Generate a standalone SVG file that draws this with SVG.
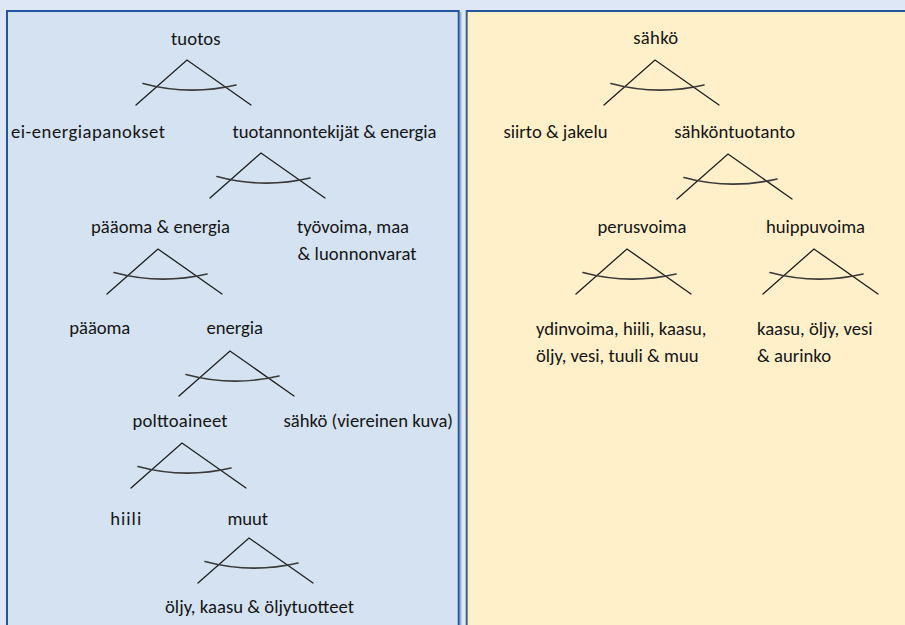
<svg xmlns="http://www.w3.org/2000/svg" xmlns:xlink="http://www.w3.org/1999/xlink" width="905" height="625" viewBox="0 0 905 625">
  <style>
    .lbl { font-family: Carlito, Lato, "Liberation Sans", sans-serif; font-size: 18.67px; fill: #141414; }
    .arm { fill: none; stroke: #1e1e1e; stroke-width: 1.3; stroke-linecap: round; stroke-linejoin: miter; }
    .arc { fill: none; stroke: #3a3a3a; stroke-width: 1.7; stroke-linecap: round; }
  </style>
  <defs>
    <!-- nesting symbol: two branches from an apex with a substitution arc -->
    <g id="fork">
      <path class="arm" d="M -51,45 L 0,0 L 64,45"/>
      <path class="arc" d="M -44,23.5 Q 2,36 49,25"/>
    </g>
  </defs>

  <!-- page background and the two panels -->
  <rect x="0" y="0" width="905" height="625" fill="#dde7f5"/>
  <rect x="7" y="11" width="451.7" height="630" fill="#d5e2f1" stroke="#2356a0" stroke-width="2"/>
  <line x1="460.8" y1="12" x2="460.8" y2="625" stroke="#8a98ac" stroke-width="1"/>
  <rect x="466.7" y="11" width="460" height="630" fill="#fff0ca" stroke="#3d5f8e" stroke-width="2"/>
  <line x1="466.7" y1="11" x2="905" y2="11" stroke="#2356a0" stroke-width="2"/>

  <g id="connectors">
    <use xlink:href="#fork" href="#fork" x="187" y="60"/>
    <use xlink:href="#fork" href="#fork" x="261" y="153"/>
    <use xlink:href="#fork" href="#fork" x="158" y="249"/>
    <use xlink:href="#fork" href="#fork" x="230" y="351"/>
    <use xlink:href="#fork" href="#fork" x="182" y="443"/>
    <use xlink:href="#fork" href="#fork" x="249" y="538"/>
    <use xlink:href="#fork" href="#fork" x="655" y="60"/>
    <use xlink:href="#fork" href="#fork" x="728" y="154"/>
    <use xlink:href="#fork" href="#fork" x="627" y="249"/>
    <use xlink:href="#fork" href="#fork" x="814" y="249"/>
  </g>

  <!-- left tree -->
  <g id="tuotos"><text class="lbl" x="171" y="44.5" textLength="49.5">tuotos</text></g>
  <g id="ei-energiapanokset"><text class="lbl" x="11" y="138.3" textLength="154">ei-energiapanokset</text></g>
  <g id="tuotannontekijat-energia"><text class="lbl" x="232.5" y="138.3" textLength="204">tuotannontekijät &amp; energia</text></g>
  <g id="paaoma-energia"><text class="lbl" x="91" y="232.7" textLength="139">pääoma &amp; energia</text></g>
  <g id="tyovoima-maa-luonnonvarat">
    <text class="lbl" x="297" y="232.7" textLength="112">työvoima, maa</text>
    <text class="lbl" x="297.5" y="260" textLength="119">&amp; luonnonvarat</text>
  </g>
  <g id="paaoma"><text class="lbl" x="69.3" y="334.3" textLength="61">pääoma</text></g>
  <g id="energia"><text class="lbl" x="206.5" y="334.3" textLength="56.5">energia</text></g>
  <g id="polttoaineet"><text class="lbl" x="132.5" y="426.7" textLength="95">polttoaineet</text></g>
  <g id="sahko-viereinen"><text class="lbl" x="283.5" y="426.7" textLength="169.5">sähkö (viereinen kuva)</text></g>
  <g id="hiili"><text class="lbl" x="110.2" y="525" textLength="31">hiili</text></g>
  <g id="muut"><text class="lbl" x="227.5" y="525" textLength="40.5">muut</text></g>
  <g id="oljy-kaasu-oljytuotteet"><text class="lbl" x="165" y="613.3" textLength="189">öljy, kaasu &amp; öljytuotteet</text></g>

  <!-- right tree -->
  <g id="sahko"><text class="lbl" x="633.2" y="44.3" textLength="45">sähkö</text></g>
  <g id="siirto-jakelu"><text class="lbl" x="503.5" y="138.3" textLength="104">siirto &amp; jakelu</text></g>
  <g id="sahkontuotanto"><text class="lbl" x="674.2" y="138.3" textLength="121">sähköntuotanto</text></g>
  <g id="perusvoima"><text class="lbl" x="597.5" y="232.7" textLength="89">perusvoima</text></g>
  <g id="huippuvoima"><text class="lbl" x="766" y="232.7" textLength="99">huippuvoima</text></g>
  <g id="perusvoima-lahteet">
    <text class="lbl" x="536" y="335" textLength="170.5">ydinvoima, hiili, kaasu,</text>
    <text class="lbl" x="536" y="361.7" textLength="162.5">öljy, vesi, tuuli &amp; muu</text>
  </g>
  <g id="huippuvoima-lahteet">
    <text class="lbl" x="757" y="335" textLength="115.5">kaasu, öljy, vesi</text>
    <text class="lbl" x="757" y="361.7" textLength="74">&amp; aurinko</text>
  </g>
</svg>
